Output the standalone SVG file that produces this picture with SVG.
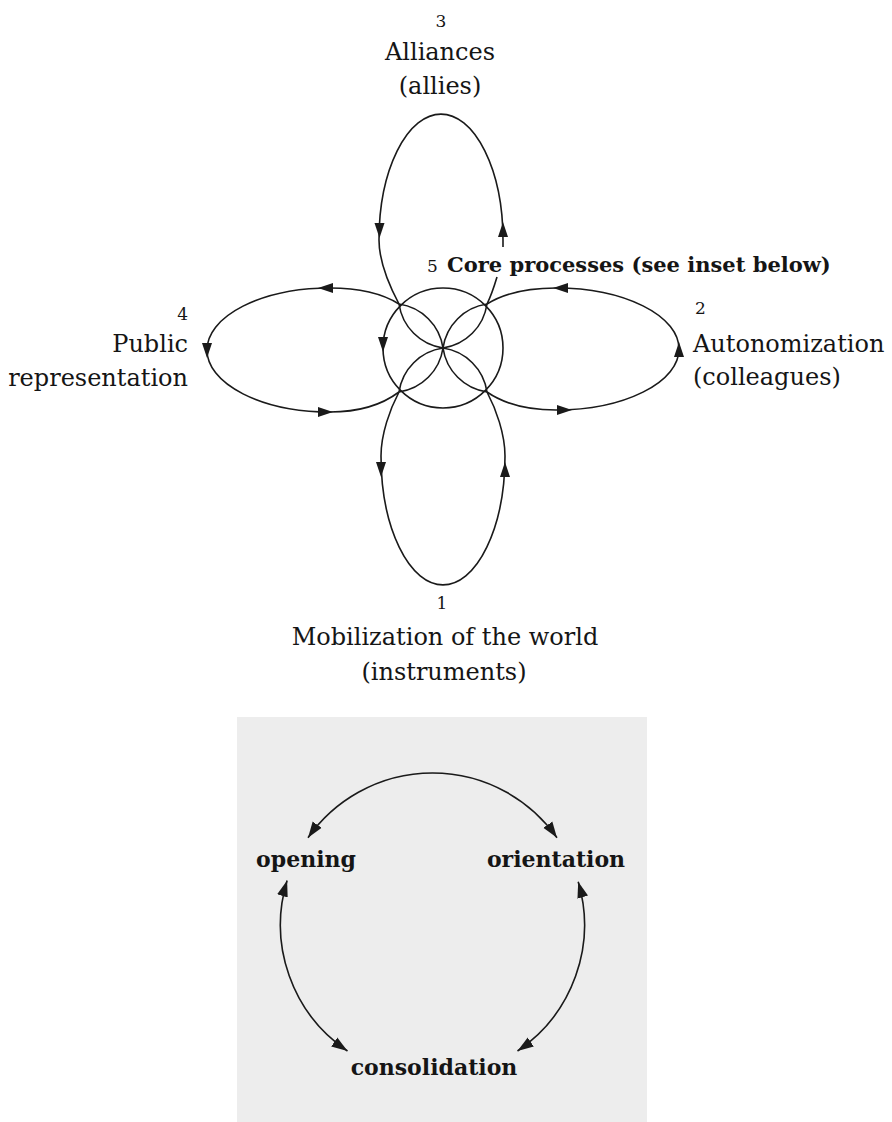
<svg xmlns="http://www.w3.org/2000/svg" xmlns:xlink="http://www.w3.org/1999/xlink" width="892" height="1122" viewBox="0 0 892 1122">
<defs>
<style>
.lbl{font-family:"DejaVu Serif","Liberation Serif",serif;font-size:24px;fill:#151515;}
.num{font-family:"DejaVu Serif","Liberation Serif",serif;font-size:17px;fill:#151515;}
.bold{font-family:"DejaVu Serif","Liberation Serif",serif;font-size:21px;font-weight:bold;fill:#151515;}
.ins{font-family:"DejaVu Serif","Liberation Serif",serif;font-size:22px;font-weight:bold;fill:#151515;}
.ln{fill:none;stroke:#1a1a1a;stroke-width:1.6;}
.iln{fill:none;stroke:#1a1a1a;stroke-width:1.6;marker-start:url(#mk);marker-end:url(#mk);}
.ah{fill:#1a1a1a;}
</style>
<polygon id="ah" points="0,0 -15,-5 -15,5"/>
<marker id="mk" markerUnits="userSpaceOnUse" viewBox="-16 -6 16 12" refX="0" refY="0" markerWidth="16" markerHeight="12" orient="auto-start-reverse">
<polygon points="0,0 -16,-5.5 -16,5.5" fill="#1a1a1a"/>
</marker>
</defs>
<rect width="892" height="1122" fill="#ffffff"/>

<g id="connectors">
<!-- top loop (3) -->
<path class="ln" d="M399,304 C390,287 379,262 379,240 A62,126 0 0 1 503,240 L503,247"/>
<path class="ln" d="M497,277 C494,287 491,296 487,304"/>
<!-- right loop (2) -->
<path class="ln" d="M487,304 C503,294 526,288 556,288 A123,61 0 0 1 556,410 C526,410 503,403 487,392"/>
<!-- bottom loop (1) -->
<path class="ln" d="M399,392 C390,409 381,434 381,456 A62,129 0 0 0 505,456 C505,434 496,409 487,392"/>
<!-- left loop (4) -->
<path class="ln" d="M399,304 C383,294 360,288 330,288 A123,62 0 0 0 330,412 C360,412 383,404 399,392"/>
<g class="ah">
<use xlink:href="#ah" transform="translate(379.5,238) rotate(90)"/>
<use xlink:href="#ah" transform="translate(503,222) rotate(-90)"/>
<use xlink:href="#ah" transform="translate(553,288) rotate(180)"/>
<use xlink:href="#ah" transform="translate(679,342) rotate(-90)"/>
<use xlink:href="#ah" transform="translate(572,410) rotate(0)"/>
<use xlink:href="#ah" transform="translate(318,288) rotate(180)"/>
<use xlink:href="#ah" transform="translate(207,358) rotate(90)"/>
<use xlink:href="#ah" transform="translate(333,412) rotate(0)"/>
<use xlink:href="#ah" transform="translate(381,477) rotate(90)"/>
<use xlink:href="#ah" transform="translate(505,462) rotate(-90)"/>
<use xlink:href="#ah" transform="translate(383,352) rotate(90)"/>
</g>
</g>

<g id="node-5-core">
<circle class="ln" cx="443" cy="348" r="60"/>
<path class="ln" d="M399,304 A52,52 0 0 1 443,348 M399,304 A52,52 0 0 0 443,348"/>
<path class="ln" d="M487,304 A52,52 0 0 1 443,348 M487,304 A52,52 0 0 0 443,348"/>
<path class="ln" d="M399,392 A52,52 0 0 1 443,348 M399,392 A52,52 0 0 0 443,348"/>
<path class="ln" d="M487,392 A52,52 0 0 1 443,348 M487,392 A52,52 0 0 0 443,348"/>
<text x="427" y="272"><tspan class="num">5</tspan><tspan class="bold" x="447">Core processes (see inset below)</tspan></text>
</g>

<g id="node-3-alliances">
<text class="num" x="441" y="27" text-anchor="middle">3</text>
<text class="lbl" x="440" y="60" text-anchor="middle">Alliances</text>
<text class="lbl" x="440" y="94" text-anchor="middle">(allies)</text>
</g>

<g id="node-2-autonomization">
<text class="num" x="695" y="314">2</text>
<text class="lbl" x="693" y="352">Autonomization</text>
<text class="lbl" x="693" y="385">(colleagues)</text>
</g>

<g id="node-4-public">
<text class="num" x="188" y="320" text-anchor="end">4</text>
<text class="lbl" x="188" y="352" text-anchor="end">Public</text>
<text class="lbl" x="188" y="386" text-anchor="end">representation</text>
</g>

<g id="node-1-mobilization">
<text class="num" x="442" y="609" text-anchor="middle">1</text>
<text class="lbl" x="445" y="645" text-anchor="middle">Mobilization of the world</text>
<text class="lbl" x="444" y="680" text-anchor="middle">(instruments)</text>
</g>

<g id="inset">
<rect x="237" y="717" width="410" height="405" fill="#ededed"/>
<g id="inset-connectors">
<path class="iln" d="M308,837.8 A152,152 0 0 1 557,837.8"/>
<path class="iln" d="M287.1,880.6 A152,152 0 0 0 347.5,1051"/>
<path class="iln" d="M578.2,881.8 A152,152 0 0 1 517.5,1051"/>
</g>
<g id="node-opening"><text class="ins" x="306" y="867" text-anchor="middle">opening</text></g>
<g id="node-orientation"><text class="ins" x="556" y="867" text-anchor="middle">orientation</text></g>
<g id="node-consolidation"><text class="ins" x="434" y="1075" text-anchor="middle">consolidation</text></g>
</g>
</svg>
